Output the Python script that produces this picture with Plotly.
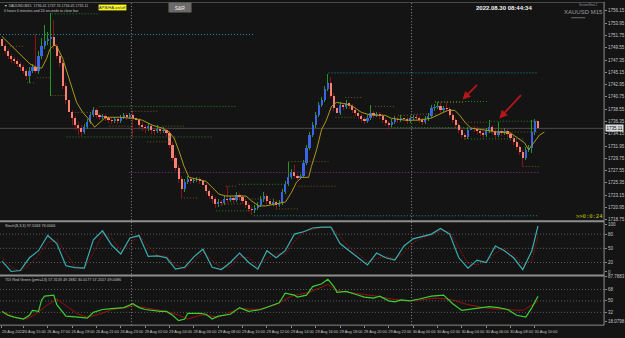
import plotly.graph_objects as go

W, H = 625, 338

# ---------------- DATA ----------------
opens = [1751.04, 1749.80, 1748.92, 1748.04, 1747.51, 1747.16, 1746.63, 1746.10, 1745.39, 1744.51,
         1745.39, 1746.10, 1745.39, 1748.04, 1749.80, 1750.68, 1751.04, 1751.39, 1749.80, 1748.04,
         1746.80, 1742.74, 1740.10, 1737.98, 1736.92, 1735.69, 1735.16, 1734.45, 1735.33, 1736.22,
         1737.45, 1738.33, 1737.45, 1737.10, 1737.28, 1736.92, 1736.57, 1736.39, 1736.75, 1736.39,
         1737.10, 1737.45, 1737.10, 1737.45, 1736.92, 1736.57, 1735.69, 1735.33, 1735.16, 1735.51,
         1734.81, 1734.63, 1734.98, 1734.63, 1734.81, 1734.28, 1732.16, 1729.87, 1728.10, 1725.98,
         1724.22, 1725.46, 1725.98, 1725.63, 1725.81, 1725.98, 1725.63, 1724.93, 1723.87, 1722.99,
         1722.46, 1721.57, 1721.93, 1721.75, 1722.46, 1722.28, 1722.63, 1722.28, 1723.16, 1722.81,
         1722.10, 1721.40, 1720.69, 1720.52, 1720.87, 1721.40, 1722.46, 1722.99, 1722.10, 1721.57,
         1721.93, 1721.40, 1721.75, 1723.69, 1725.10, 1726.34, 1727.22, 1726.51, 1726.16, 1726.51,
         1728.98, 1731.63, 1733.92, 1735.69, 1737.45, 1739.22, 1740.10, 1742.22, 1743.27, 1740.98,
         1738.69, 1737.80, 1739.22, 1738.86, 1739.57, 1739.04, 1738.33, 1737.80, 1737.28, 1736.75,
         1736.39, 1736.92, 1737.80, 1737.45, 1737.63, 1737.28, 1736.57, 1736.04, 1735.69, 1736.22,
         1736.75, 1736.57, 1736.92, 1736.75, 1736.39, 1736.92, 1737.10, 1736.92, 1736.57, 1736.22,
         1736.75, 1737.28, 1738.69, 1738.86, 1739.04, 1738.33, 1738.69, 1738.51, 1737.45, 1736.57,
         1735.69, 1734.81, 1733.92, 1733.57, 1734.81, 1735.16, 1734.98, 1734.63, 1734.28, 1733.92,
         1734.63, 1735.33, 1734.63, 1733.92, 1734.63, 1734.28, 1734.63, 1734.10, 1733.39, 1732.69,
         1731.81, 1730.92, 1729.87, 1731.28, 1731.63, 1734.45, 1736.41]
closes = [1749.80, 1748.92, 1748.04, 1747.51, 1747.16, 1746.63, 1746.10, 1745.39, 1744.51, 1745.39,
          1746.10, 1745.39, 1748.04, 1749.80, 1750.68, 1751.04, 1751.39, 1749.80, 1748.04, 1746.80,
          1742.74, 1740.10, 1737.98, 1736.92, 1735.69, 1735.16, 1734.45, 1735.33, 1736.22, 1737.45,
          1738.33, 1737.45, 1737.10, 1737.28, 1736.92, 1736.57, 1736.39, 1736.75, 1736.39, 1737.10,
          1737.45, 1737.10, 1737.45, 1736.92, 1736.57, 1735.69, 1735.33, 1735.16, 1735.51, 1734.81,
          1734.63, 1734.98, 1734.63, 1734.81, 1734.28, 1732.16, 1729.87, 1728.10, 1725.98, 1724.22,
          1725.46, 1725.98, 1725.63, 1725.81, 1725.98, 1725.63, 1724.93, 1723.87, 1722.99, 1722.46,
          1721.57, 1721.93, 1721.75, 1722.46, 1722.28, 1722.63, 1722.28, 1723.16, 1722.81, 1722.10,
          1721.40, 1720.69, 1720.52, 1720.87, 1721.40, 1722.46, 1722.99, 1722.10, 1721.57, 1721.93,
          1721.40, 1721.75, 1723.69, 1725.10, 1726.34, 1727.22, 1726.51, 1726.16, 1726.51, 1728.98,
          1731.63, 1733.92, 1735.69, 1737.45, 1739.22, 1740.10, 1742.22, 1743.27, 1740.98, 1738.69,
          1737.80, 1739.22, 1738.86, 1739.57, 1739.04, 1738.33, 1737.80, 1737.28, 1736.75, 1736.39,
          1736.92, 1737.80, 1737.45, 1737.63, 1737.28, 1736.57, 1736.04, 1735.69, 1736.22, 1736.75,
          1736.57, 1736.92, 1736.75, 1736.39, 1736.92, 1737.10, 1736.92, 1736.57, 1736.22, 1736.75,
          1737.28, 1738.69, 1738.86, 1739.04, 1738.33, 1738.69, 1738.51, 1737.45, 1736.57, 1735.69,
          1734.81, 1733.92, 1733.57, 1734.81, 1735.16, 1734.98, 1734.63, 1734.28, 1733.92, 1734.63,
          1735.33, 1734.63, 1733.92, 1734.63, 1734.28, 1734.63, 1734.10, 1733.39, 1732.69, 1731.81,
          1730.92, 1729.87, 1731.28, 1731.63, 1734.45, 1736.41, 1735.11]
highs = [1751.57, 1750.15, 1749.27, 1748.39, 1747.86, 1747.51, 1746.98, 1746.45, 1745.74, 1746.10,
         1746.63, 1751.92, 1748.92, 1751.21, 1753.68, 1752.45, 1755.80, 1754.56, 1750.15, 1748.39,
         1747.16, 1743.27, 1740.63, 1738.33, 1737.28, 1736.22, 1735.69, 1735.86, 1736.75, 1737.98,
         1738.86, 1738.69, 1737.80, 1737.63, 1737.63, 1737.28, 1736.92, 1737.10, 1737.10, 1737.45,
         1737.80, 1737.80, 1737.80, 1738.33, 1737.28, 1736.92, 1736.22, 1735.69, 1736.04, 1735.86,
         1735.16, 1735.69, 1735.33, 1735.33, 1735.16, 1734.63, 1732.69, 1730.40, 1728.63, 1726.51,
         1725.98, 1726.51, 1726.34, 1726.16, 1726.34, 1726.34, 1725.98, 1725.28, 1724.22, 1723.34,
         1722.81, 1722.46, 1722.28, 1722.99, 1724.75, 1722.99, 1722.99, 1723.69, 1723.51, 1723.16,
         1722.46, 1721.75, 1721.05, 1721.40, 1721.93, 1722.99, 1723.69, 1723.34, 1722.46, 1722.46,
         1722.28, 1722.28, 1724.22, 1725.63, 1729.16, 1727.75, 1728.63, 1726.87, 1726.87, 1729.51,
         1732.16, 1734.45, 1736.22, 1737.98, 1739.75, 1740.80, 1742.74, 1744.86, 1744.33, 1741.51,
         1739.22, 1739.75, 1739.57, 1740.10, 1739.92, 1739.39, 1738.69, 1738.16, 1737.63, 1737.10,
         1737.45, 1739.22, 1738.16, 1737.98, 1737.98, 1737.63, 1736.92, 1736.39, 1736.75, 1737.28,
         1737.10, 1737.45, 1737.28, 1737.10, 1737.28, 1737.45, 1737.45, 1737.28, 1736.92, 1737.28,
         1737.80, 1739.22, 1739.39, 1739.92, 1739.57, 1739.04, 1739.75, 1738.86, 1737.80, 1736.92,
         1736.04, 1735.16, 1734.28, 1735.33, 1735.69, 1735.51, 1735.33, 1734.98, 1734.63, 1735.16,
         1736.57, 1735.69, 1734.98, 1736.22, 1734.98, 1735.16, 1734.98, 1734.45, 1733.75, 1733.04,
         1732.16, 1731.28, 1731.81, 1732.16, 1736.57, 1736.75, 1737.76]
lows = [1749.45, 1748.39, 1747.51, 1746.80, 1746.63, 1746.10, 1745.39, 1744.86, 1743.80, 1743.27,
        1745.04, 1745.04, 1744.86, 1747.51, 1749.27, 1749.98, 1740.98, 1749.27, 1747.51, 1746.10,
        1742.22, 1739.39, 1737.28, 1735.69, 1734.81, 1733.92, 1733.75, 1734.10, 1734.98, 1735.86,
        1737.10, 1736.92, 1736.57, 1736.75, 1736.39, 1736.04, 1735.86, 1736.04, 1735.86, 1736.04,
        1736.75, 1736.57, 1736.75, 1733.57, 1735.86, 1735.16, 1734.63, 1734.28, 1734.63, 1734.10,
        1733.92, 1734.28, 1734.10, 1734.28, 1733.75, 1731.63, 1729.34, 1727.40, 1725.28, 1722.81,
        1723.69, 1725.10, 1725.10, 1725.28, 1725.46, 1725.10, 1724.40, 1723.34, 1722.46, 1721.75,
        1720.87, 1721.05, 1721.22, 1721.40, 1721.75, 1721.93, 1721.75, 1721.93, 1722.28, 1721.57,
        1720.87, 1720.16, 1719.63, 1719.99, 1720.52, 1721.05, 1721.93, 1721.57, 1721.05, 1721.22,
        1720.87, 1721.05, 1721.40, 1723.34, 1724.75, 1725.98, 1726.16, 1725.81, 1725.98, 1726.16,
        1728.63, 1731.28, 1733.57, 1735.16, 1737.10, 1738.86, 1739.75, 1741.86, 1740.63, 1738.16,
        1737.28, 1737.45, 1738.33, 1738.51, 1738.51, 1737.80, 1737.28, 1736.75, 1736.22, 1735.86,
        1736.04, 1736.57, 1736.92, 1737.10, 1736.75, 1736.04, 1735.51, 1734.81, 1735.33, 1735.86,
        1736.04, 1736.22, 1736.22, 1735.86, 1736.04, 1736.57, 1736.39, 1736.04, 1735.69, 1735.86,
        1736.39, 1736.92, 1738.16, 1738.51, 1737.80, 1737.98, 1737.98, 1736.92, 1736.04, 1735.16,
        1734.28, 1733.39, 1733.04, 1733.22, 1734.45, 1734.45, 1734.10, 1733.75, 1733.39, 1733.57,
        1734.28, 1734.10, 1733.39, 1733.57, 1733.75, 1733.92, 1733.57, 1732.87, 1732.16, 1731.28,
        1730.40, 1728.28, 1729.51, 1730.92, 1730.75, 1733.92, 1734.45]

# time axis labels (bar index of each label)
time_tick_bars = [0, 7, 15, 23, 31, 39, 47, 55, 63, 71, 79, 87, 95, 103, 111, 119, 127,
                  135, 143, 151, 159, 167, 175]
time_tick_text = ["26 Aug 2022", "26 Aug 15:00", "26 Aug 17:00", "26 Aug 19:00", "26 Aug 21:00",
                  "26 Aug 23:00", "29 Aug 02:00", "29 Aug 04:00", "29 Aug 06:00", "29 Aug 08:00",
                  "29 Aug 10:00", "29 Aug 12:00", "29 Aug 14:00", "29 Aug 16:00", "29 Aug 18:00",
                  "29 Aug 20:00", "29 Aug 22:00", "30 Aug 00:00", "30 Aug 02:00", "30 Aug 04:00",
                  "30 Aug 06:00", "30 Aug 08:00", "30 Aug 10:00"]
day_breaks = [42.5, 134.5]

price_ticks = [1756.15, 1753.95, 1751.75, 1749.55, 1747.35, 1745.15, 1742.95, 1740.75, 1738.55,
               1736.35, 1734.15, 1731.95, 1729.75, 1727.55, 1725.35, 1723.15, 1720.95, 1718.75]

# yellow moving average line
ma_bar = [0, 2.6, 5.9, 9.2, 11.8, 13.1, 14.7, 15.7, 17.3, 18.3, 19.9, 21.2, 22.9, 24.5, 26.5, 28.8,
          30.4, 32.0, 33.7, 35.3, 38.6, 42.8, 46.1, 49.3, 52.6, 54.9, 56.5, 58.2, 59.8, 61.4, 64.7,
          67.0, 69.0, 71.2, 73.5, 76.8, 80.1, 82.0, 84.3, 86.6, 89.9, 93.1, 95.1, 96.7, 98.4, 100.7,
          101.6, 103.3, 104.9, 106.5, 108.2, 109.8, 112.1, 114.7, 118.0, 121.2, 125.8, 127.8, 132.4,
          136.6, 140.8, 146.4, 148.7, 150.3, 152.0, 153.9, 158.5, 162.7, 167.0, 169.3, 171.6, 172.9,
          174.8, 176.5, 178.1]
ma_price = [1751.57, 1750.15, 1748.39, 1746.63, 1745.92, 1745.92, 1747.68, 1749.27, 1750.15, 1749.45,
            1747.68, 1745.39, 1742.39, 1739.75, 1737.98, 1736.57, 1735.33, 1736.04, 1736.92, 1737.10,
            1737.10, 1736.92, 1736.57, 1735.69, 1735.16, 1734.45, 1733.39, 1730.92, 1728.28, 1726.34,
            1725.98, 1725.63, 1724.57, 1723.34, 1722.99, 1722.99, 1722.99, 1722.10, 1721.22, 1721.22,
            1721.57, 1721.93, 1723.69, 1725.46, 1726.34, 1726.34, 1728.28, 1731.28, 1734.81, 1736.57,
            1739.04, 1739.75, 1739.57, 1739.22, 1737.98, 1737.45, 1737.45, 1736.92, 1736.57, 1736.57,
            1736.92, 1738.33, 1738.33, 1737.45, 1736.22, 1735.16, 1734.81, 1734.45, 1734.28, 1733.39,
            1732.51, 1731.28, 1732.69, 1733.92, 1734.45]

# dotted support / resistance levels: start bar, end bar, price, kind
lvl_start = [-0.65, 16.3, 2.6, 11.4, 8.2, 16.3, 32.0, 23.9, 42.8, 35.3, 21.2, 52.6, 47.7, 41.8, 58.8,
             82.7, 107.2, 77.8, 70.3, 72.2, 73.5, 82.0, 89.9, 94.1, 97.4, 112.7, 109.5, 122.5, 127.8,
             130.0, 134.3, 142.2, 142.2, 160.5, 152.0, 152.0, 159.5, 171.0]
lvl_end = [82.7, 32.0, 6.9, 15.7, 10.8, 21.2, 76.8, 31.0, 51.6, 42.8, 69.0, 60.5, 54.9, 176.1, 64.7,
           176.1, 176.1, 93.1, 82.0, 78.8, 76.8, 89.9, 97.4, 107.2, 109.5, 118.0, 116.3, 129.0, 152.0,
           136.6, 143.1, 159.5, 152.0, 175.8, 160.5, 171.6, 175.8, 176.5]
lvl_price = [1751.92, 1755.62, 1749.80, 1744.16, 1743.27, 1740.98, 1739.04, 1737.98, 1738.16, 1735.51,
             1733.57, 1735.51, 1732.69, 1727.22, 1722.63, 1719.46, 1745.04, 1725.10, 1720.34, 1721.57,
             1724.75, 1722.46, 1720.69, 1729.16, 1724.75, 1740.63, 1737.10, 1739.04, 1735.25, 1737.45,
             1737.63, 1739.92, 1739.75, 1736.39, 1736.22, 1733.22, 1734.45, 1728.28]
lvl_kind = ["cyan", "green", "brown", "brown", "brown", "brown", "green", "brown", "brown", "brown",
            "green", "brown", "brown", "magenta", "brown", "cyan", "cyan", "green", "green", "brown",
            "brown", "brown", "brown", "brown", "brown", "brown", "brown", "brown", "green", "brown",
            "brown", "green", "brown", "green", "brown", "green", "brown", "brown"]

# Stochastic (8,3,3)
stoch_bar = [0, 3, 6, 9, 12, 15, 18, 21, 24, 27, 30, 33, 36, 39, 42, 45, 48, 51, 54, 57, 60, 63, 66,
             69, 72, 75, 78, 81, 84, 87, 90, 93, 96, 99, 102, 105, 108, 111, 114, 117, 120, 123, 126,
             129, 132, 135, 138, 141, 144, 147, 150, 153, 156, 159, 162, 165, 168, 171, 174, 176]
stoch_main = [23, 1, 3, 30, 45, 77, 60, 13, 9, 8, 68, 87, 57, 38, 72, 77, 33, 34, 30, 6, 10, 32, 48,
              10, 5, 20, 40, 20, 6, 45, 30, 45, 80, 85, 93, 95, 95, 60, 45, 30, 15, 40, 30, 25, 55,
              70, 75, 80, 92, 80, 30, 8, 25, 20, 55, 45, 30, 5, 45, 97.56]
stoch_signal = [30, 10, 2, 15, 35, 62, 68, 40, 12, 8, 40, 80, 72, 45, 58, 78, 55, 35, 33, 15, 7, 22,
                42, 25, 8, 12, 32, 30, 12, 28, 38, 38, 65, 84, 90, 94, 95, 75, 52, 38, 22, 28, 33, 28,
                40, 62, 72, 78, 87, 85, 50, 18, 15, 22, 40, 50, 38, 15, 25, 76.0]
stoch_levels = [20, 50, 80]

# TDI Red Green
tdi_green_bar = [0, 2, 4, 7, 9, 10, 12, 13, 14, 17, 18, 20, 21, 25, 28, 30, 33, 36, 40, 43, 45, 47,
                 52, 54, 56, 58, 60, 61, 65, 67, 69, 71, 75, 78, 81, 85, 89, 91, 93, 96, 97, 100,
                 102, 105, 107, 109, 110, 113, 116, 119, 122, 124, 127, 129, 131, 134, 137, 141, 145,
                 148, 151, 155, 160, 163, 166, 169, 172, 174, 176]
tdi_green = [33.5, 27.5, 24.5, 21.5, 27.5, 35, 33.5, 51.5, 57.5, 59, 44, 32, 26, 24.5, 23, 32, 36.5,
             38, 39.5, 45.5, 39.5, 36.5, 33.5, 33.5, 27.5, 19, 21.5, 30.5, 30.5, 29, 21.5, 26, 29,
             39.5, 33.5, 36.5, 44, 47, 62, 59, 56, 59, 72.5, 77, 84, 72.5, 63.5, 65, 60.5, 56, 54.5,
             57.5, 50, 48.5, 51.5, 50, 53, 57.5, 59, 45.5, 35, 38, 41, 39.5, 36.5, 27.5, 24.5, 39.5,
             57.31]
tdi_red_bar = [0, 4, 8, 11, 15, 18, 21, 25, 28, 32, 36, 41, 43, 45, 51, 54, 58, 61, 65, 67, 71, 78,
               84, 90, 95, 101, 107, 110, 116, 123, 128, 133, 137, 143, 148, 153, 160, 166, 171, 176]
tdi_red = [33.5, 24.5, 21.5, 29, 44, 53, 42.5, 29, 24.5, 29, 36.5, 39.5, 42.5, 41, 36.5, 33.5, 27.5,
           21.5, 27.5, 27.5, 24.5, 38, 36.5, 44, 57.5, 63.5, 76, 66.5, 62, 57.5, 53, 50, 51.5, 54.5,
           51.5, 44, 38, 36, 35, 49.19]
tdi_levels = [32, 50, 68]

# red arrows (head at bar / price, tail offset in px)
arrow_bar = [151.2, 163.3]
arrow_price = [1740.27, 1736.87]

# ---------------- STYLE / LAYOUT HELPERS ----------------
BG = "#141414"
AXIS_TXT = "#c4c4c4"
FONT = "Liberation Sans"
PLOT_R = 607 / W


def yp(py):
    return 1 - py / H


def xp(px):
    return px / W


fig = go.Figure()

n = len(closes)
bars = list(range(n))
bull = [i for i in bars if closes[i] >= opens[i]]
bear = [i for i in bars if closes[i] < opens[i]]

# wicks
for idx, col in ((bull, "#1f9a1f"), (bear, "#8f1212")):
    fig.add_trace(go.Bar(
        x=[i for i in idx], y=[highs[i] - lows[i] for i in idx], base=[lows[i] for i in idx],
        width=0.32, marker=dict(color=col, line=dict(width=0)), xaxis="x", yaxis="y",
        hoverinfo="skip", showlegend=False))
# bodies
for idx, col in ((bull, "#3c64e6"), (bear, "#fa8072")):
    fig.add_trace(go.Bar(
        x=[i for i in idx], y=[max(abs(closes[i] - opens[i]), 0.12) for i in idx],
        base=[min(opens[i], closes[i]) for i in idx],
        width=0.72, marker=dict(color=col, line=dict(width=0)), xaxis="x", yaxis="y",
        hoverinfo="skip", showlegend=False))

# dotted levels
lvl_colors = {"cyan": "#1b8ea6", "green": "#24862a", "brown": "#735520", "magenta": "#8a348a"}
for kind, col in lvl_colors.items():
    xs, ys = [], []
    for s, e, p, k in zip(lvl_start, lvl_end, lvl_price, lvl_kind):
        if k == kind:
            xs += [s, e, None]
            ys += [p, p, None]
    fig.add_trace(go.Scatter(x=xs, y=ys, mode="lines", line=dict(color=col, width=1, dash="1px,2px"),
                             xaxis="x", yaxis="y", hoverinfo="skip", showlegend=False))

# moving average
fig.add_trace(go.Scatter(x=ma_bar, y=ma_price, mode="lines", line=dict(color="#a99a1c", width=1),
                         xaxis="x", yaxis="y", hoverinfo="skip", showlegend=False))

# stochastic
fig.add_trace(go.Scatter(x=stoch_bar, y=stoch_signal, mode="lines",
                         line=dict(color="#a01414", width=1, dash="1px,1px"),
                         xaxis="x", yaxis="y2", hoverinfo="skip", showlegend=False))
fig.add_trace(go.Scatter(x=stoch_bar, y=stoch_main, mode="lines", line=dict(color="#3aaeb0", width=1.2),
                         xaxis="x", yaxis="y2", hoverinfo="skip", showlegend=False))

# TDI
fig.add_trace(go.Scatter(x=tdi_red_bar, y=tdi_red, mode="lines", line=dict(color="#9c1010", width=1),
                         xaxis="x", yaxis="y3", hoverinfo="skip", showlegend=False))
fig.add_trace(go.Scatter(x=tdi_green_bar, y=tdi_green, mode="lines", line=dict(color="#3ccf32", width=1.2),
                         xaxis="x", yaxis="y3", hoverinfo="skip", showlegend=False))

shapes = []
# current price line
shapes.append(dict(type="line", xref="paper", yref="y", x0=0, x1=PLOT_R, y0=closes[-1], y1=closes[-1],
                   line=dict(color="#4a4a4a", width=1), layer="below"))
# day separators
for b in day_breaks:
    shapes.append(dict(type="line", xref="x", yref="paper", x0=b, x1=b, y0=yp(328), y1=yp(1),
                       line=dict(color="#8c8c8c", width=1, dash="1px,2px")))
# indicator levels
for lv in stoch_levels:
    shapes.append(dict(type="line", xref="paper", yref="y2", x0=0, x1=PLOT_R, y0=lv, y1=lv,
                       line=dict(color="#5c5c5c", width=1, dash="1px,2px"), layer="below"))
for lv in tdi_levels:
    shapes.append(dict(type="line", xref="paper", yref="y3", x0=0, x1=PLOT_R, y0=lv, y1=lv,
                       line=dict(color="#5c5c5c", width=1, dash="1px,2px"), layer="below"))
# frame
for py, wdt, col in ((222.5, 2, "#8e8e8e"), (277.5, 2, "#8e8e8e"), (328, 1, "#8a8a8a"), (0.5, 1, "#4a4a4a")):
    shapes.append(dict(type="line", xref="paper", yref="paper", x0=0, x1=PLOT_R, y0=yp(py), y1=yp(py),
                       line=dict(color=col, width=wdt)))
shapes.append(dict(type="line", xref="paper", yref="paper", x0=PLOT_R, x1=PLOT_R, y0=yp(328), y1=1,
                   line=dict(color="#8e8e8e", width=1)))
shapes.append(dict(type="line", xref="paper", yref="paper", x0=xp(574), x1=xp(588), y0=yp(16), y1=yp(16),
                   line=dict(color="#6e6e6e", width=1)))

ann = []


def txt(px, py, s, size=4.5, color=AXIS_TXT, xanchor="left", **kw):
    d = dict(xref="paper", yref="paper", x=xp(px), y=yp(py), text=s, showarrow=False,
             xanchor=xanchor, yanchor="middle", font=dict(size=size, color=color, family=FONT))
    d.update(kw)
    ann.append(d)


hdr = "▼ XAUUSD,M15  %.2f %.2f %.2f %.2f" % (opens[-1], highs[-1], lows[-1], closes[-1])
txt(2, 4.0, hdr, size=3.6)
txt(2, 9.0, "0 hours 0 minutes and 24 seconds to close bar", size=3.6)
txt(113, 5.5, "APB/HA on/off", size=4.2, color="#1818b8", xanchor="center", bgcolor="#ffff00",
    bordercolor="#202020", borderwidth=0.5, borderpad=0.3)
txt(181, 6, "S&R", size=5, color="#f0f0f0", xanchor="center", bgcolor="#6a6a6a", width=20, height=7)
txt(506, 6.5, "<b>2022.08.30 08:44:34</b>", size=6, color="#f2f2f2", xanchor="center")
txt(591, 3, "ScreenShot 2", size=3, color="#9a9a9a", xanchor="center")
txt(586, 10.5, "XAUUSD M15", size=6, color="#9c9c9c", xanchor="center")
txt(577, 217.5, ">>0:0:24", size=5.5, color="#c8c800", font=dict(size=5.5, color="#c8c800",
                                                                    family="DejaVu Sans Mono"))
txt(3, 227.5, "Stoch(8,3,3) 97.5563 76.0006", size=3.8)
txt(3, 282.5, "TDI Red Green (pmt=13) 57.3133 49.1882 30.0177 57.2017 49.0086", size=3.8)

# current price tag
ann.append(dict(xref="paper", yref="y", x=PLOT_R + 0.001, y=closes[-1], text="%.2f" % closes[-1],
                showarrow=False, xanchor="left", yanchor="middle", bgcolor="#dedede", borderpad=0.5,
                font=dict(size=4.5, color="#000000", family=FONT)))

# red arrows
for b, p, ax, ay in zip(arrow_bar, arrow_price, (16, 23), (-16, -25)):
    ann.append(dict(xref="x", yref="y", x=b, y=p, ax=ax, ay=ay, text="", showarrow=True,
                    arrowhead=2, arrowsize=0.9, arrowwidth=1.8, arrowcolor="#b4161a"))

tickfont = dict(size=4.5, color=AXIS_TXT, family=FONT)
xtickfont = dict(size=3.9, color=AXIS_TXT, family=FONT)
fig.update_layout(
    width=W, height=H, margin=dict(l=0, r=0, t=0, b=0),
    paper_bgcolor=BG, plot_bgcolor=BG, barmode="overlay", bargap=0,
    hovermode=False, showlegend=False,
    shapes=shapes, annotations=ann,
    xaxis=dict(domain=[0, PLOT_R], range=[-0.654, 197.7], anchor="free", position=yp(328),
               tickmode="array", tickvals=time_tick_bars, ticktext=time_tick_text,
               tickfont=xtickfont, tickangle=0, ticks="outside", ticklen=2, tickcolor="#8a8a8a",
               ticklabelshift=11, showgrid=False, zeroline=False, showline=False, fixedrange=True),
    yaxis=dict(domain=[yp(222), yp(2)], range=[1718.57, 1757.385], side="right", anchor="free",
               position=PLOT_R, tickmode="array", tickvals=price_ticks,
               ticktext=["%.2f" % v for v in price_ticks], tickfont=tickfont, ticks="outside",
               ticklen=2, tickcolor="#8a8a8a", showgrid=False, zeroline=False, showline=False),
    yaxis2=dict(domain=[yp(278), yp(224)], range=[-8.3, 104.2], side="right", anchor="free",
                position=PLOT_R, tickmode="array", tickvals=[0, 20, 50, 80, 100],
                ticktext=["0", "20", "50", "80", "100"], tickfont=tickfont, ticks="outside",
                ticklen=2, tickcolor="#8a8a8a", showgrid=False, zeroline=False, showline=False),
    yaxis3=dict(domain=[yp(324), yp(279)], range=[18.0798, 87.7883], side="right", anchor="free",
                position=PLOT_R, tickmode="array", tickvals=[18.0798, 32, 50, 68, 87.7883],
                ticktext=["18.0798", "32", "50", "68", "87.7883"], tickfont=tickfont, ticks="outside",
                ticklen=2, tickcolor="#8a8a8a", showgrid=False, zeroline=False, showline=False),
)

fig.write_html("out.html", config={"displayModeBar": False, "staticPlot": True})
